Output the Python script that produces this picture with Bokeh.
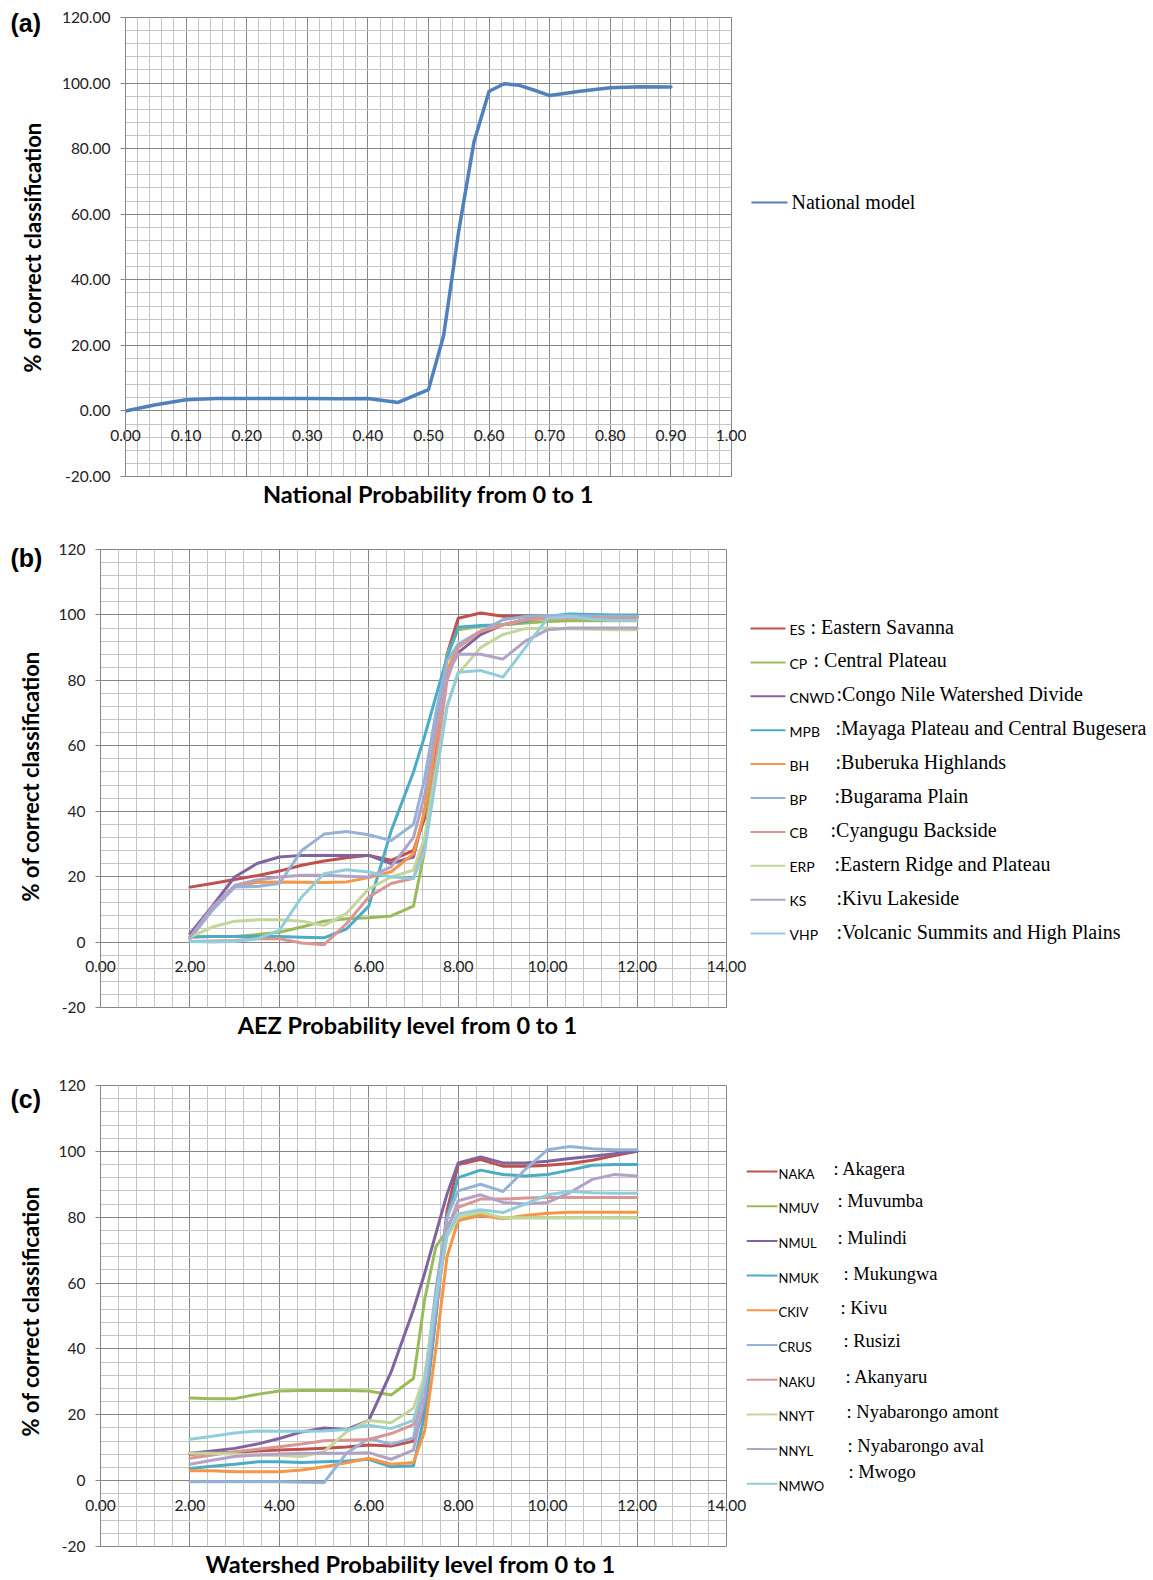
import numpy as np
from bokeh.plotting import figure
from bokeh.models import Range1d, FixedTicker, NumeralTickFormatter, ColumnDataSource
from bokeh.layouts import column, row
from bokeh.embed import file_html
from bokeh.resources import INLINE
from bokeh.core.properties import value

# ---------------- data ----------------
# (a) national model
nat_x = [0.0, 0.05, 0.1, 0.15, 0.2, 0.25, 0.3, 0.35, 0.4, 0.45, 0.5, 0.525, 0.55,
         0.575, 0.6, 0.625, 0.65, 0.675, 0.7, 0.75, 0.8, 0.85, 0.9]
nat_y = [0.0, 1.9, 3.4, 3.8, 3.8, 3.8, 3.8, 3.7, 3.8, 2.6, 6.5, 23.0, 55.0,
         82.0, 97.5, 99.8, 99.3, 97.8, 96.2, 97.5, 98.6, 98.9, 98.8]
nat_label = "National model"
nat_xticks = [0.0, 0.1, 0.2, 0.3, 0.4, 0.5, 0.6, 0.7, 0.8, 0.9, 1.0]
yticks = [-20, 0, 20, 40, 60, 80, 100, 120]

# (b) agro-ecological zones
aez_x = [2, 2.5, 3, 3.5, 4, 4.5, 5, 5.5, 6, 6.5, 7, 7.25, 7.5, 7.75, 8, 8.5, 9,
         9.5, 10, 10.5, 11, 11.5, 12]
aez_codes = ["ES", "CP", "CNWD", "MPB", "BH", "BP", "CB", "ERP", "KS", "VHP"]
aez_names = [": Eastern Savanna", ": Central Plateau", ":Congo Nile Watershed Divide",
             ":Mayaga Plateau and Central Bugesera", ":Buberuka Highlands",
             ":Bugarama Plain", ":Cyangugu Backside", ":Eastern Ridge and Plateau",
             ":Kivu Lakeside", ":Volcanic Summits and High Plains"]
aez_ES = [16.8, 17.9, 19.1, 20.3, 21.7, 23.5, 24.8, 25.8, 26.5, 25.0, 28.0, 38.0, 60.0,
          88.0, 99.0, 100.6, 99.6, 99.5, 99.5, 99.5, 99.5, 99.5, 99.5]
aez_CP = [1.7, 1.7, 1.7, 2.3, 3.0, 4.6, 6.4, 7.1, 7.4, 8.0, 11.0, 28.0, 67.0,
          88.0, 95.5, 96.5, 97.0, 97.5, 98.0, 98.2, 98.2, 98.2, 98.2]
aez_CNWD = [2.5, 11.0, 19.9, 24.0, 26.0, 26.5, 26.5, 26.5, 26.5, 24.0, 26.0, 40.0, 65.0,
            82.0, 88.5, 94.0, 97.0, 98.5, 99.5, 99.7, 99.7, 99.5, 99.5]
aez_MPB = [1.5, 1.7, 1.7, 1.7, 1.7, 1.5, 1.3, 4.0, 11.0, 34.0, 52.0, 63.0, 75.0,
           87.0, 96.2, 96.8, 97.0, 98.0, 99.6, 100.3, 100.1, 100.0, 100.0]
aez_BH = [1.0, 10.0, 17.0, 18.3, 18.4, 18.3, 18.2, 18.4, 19.7, 21.5, 27.0, 40.0, 62.0,
          83.0, 91.0, 95.0, 97.0, 98.5, 99.0, 99.2, 99.2, 99.2, 99.2]
aez_BP = [1.0, 9.7, 16.8, 17.0, 17.9, 28.0, 33.0, 33.8, 32.8, 31.0, 36.0, 50.0, 70.0,
          86.0, 91.0, 95.0, 98.5, 99.5, 99.8, 99.8, 99.7, 99.6, 99.5]
aez_CB = [0.2, 0.3, 0.5, 1.0, 1.0, -0.3, -0.8, 5.6, 13.8, 17.9, 19.5, 30.0, 55.0,
          80.0, 90.0, 95.0, 97.0, 98.5, 99.0, 99.0, 99.0, 99.0, 99.0]
aez_ERP = [1.5, 4.6, 6.4, 6.8, 6.8, 6.4, 5.1, 8.7, 16.3, 19.9, 22.0, 32.0, 52.0,
           72.0, 82.0, 90.0, 94.0, 95.8, 96.0, 95.8, 95.6, 95.5, 95.5]
aez_KS = [1.5, 10.7, 17.3, 19.0, 19.9, 20.4, 20.4, 20.1, 19.9, 23.0, 32.0, 45.0, 65.0,
          82.0, 88.0, 88.0, 86.5, 92.0, 95.5, 96.0, 96.0, 96.0, 96.0]
aez_VHP = [0.2, 0.0, 0.2, 1.0, 3.6, 13.8, 20.9, 22.1, 21.4, 19.9, 19.4, 28.0, 50.0,
           72.0, 82.5, 83.0, 81.0, 90.0, 99.0, 99.5, 98.7, 98.3, 98.3]
aez_series = [aez_ES, aez_CP, aez_CNWD, aez_MPB, aez_BH, aez_BP, aez_CB, aez_ERP,
              aez_KS, aez_VHP]
aez_xticks = [0, 2, 4, 6, 8, 10, 12, 14]

# (c) watersheds
ws_x = aez_x
ws_codes = ["NAKA", "NMUV", "NMUL", "NMUK", "CKIV", "CRUS", "NAKU", "NNYT", "NNYL", "NMWO"]
ws_names = [": Akagera", ": Muvumba", ": Mulindi", ": Mukungwa", ": Kivu", ": Rusizi",
            ": Akanyaru", ": Nyabarongo amont", ": Nyabarongo aval", ": Mwogo"]
ws_NAKA = [8.0, 8.3, 8.6, 9.0, 9.3, 9.5, 9.8, 10.2, 10.8, 10.5, 12.0, 22.0, 50.0,
           82.0, 96.0, 97.5, 95.5, 95.5, 95.8, 96.3, 97.3, 98.7, 100.0]
ws_NMUV = [25.1, 24.9, 24.9, 26.2, 27.2, 27.4, 27.4, 27.4, 27.2, 26.0, 31.0, 55.0, 71.0,
           76.0, 79.0, 81.0, 79.8, 79.8, 79.8, 79.8, 79.8, 79.8, 79.8]
ws_NMUL = [8.3, 9.0, 9.8, 11.1, 12.8, 14.8, 16.0, 15.5, 18.3, 33.0, 52.0, 63.0, 75.0,
           87.0, 96.5, 98.3, 96.5, 96.5, 97.0, 97.8, 98.5, 99.3, 100.0]
ws_NMUK = [3.7, 4.4, 5.0, 5.7, 5.7, 5.5, 5.7, 6.0, 6.5, 4.2, 4.5, 20.0, 50.0,
           80.0, 92.0, 94.3, 93.0, 92.5, 93.0, 94.3, 95.8, 96.0, 96.0]
ws_CKIV = [3.0, 3.0, 2.7, 2.7, 2.7, 3.2, 4.2, 5.4, 6.8, 5.0, 5.5, 15.0, 40.0,
           68.0, 79.0, 80.5, 79.5, 80.5, 81.2, 81.5, 81.5, 81.5, 81.5]
ws_CRUS = [-0.3, -0.3, -0.3, -0.3, -0.3, -0.5, -0.6, 8.3, 12.8, 11.1, 13.0, 30.0, 58.0,
           80.0, 88.0, 90.0, 87.8, 94.5, 100.5, 101.5, 100.8, 100.5, 100.5]
ws_NAKU = [6.8, 7.8, 8.8, 9.5, 10.3, 11.1, 12.1, 12.3, 12.5, 14.3, 17.0, 30.0, 55.0,
           77.0, 83.0, 85.5, 85.5, 85.8, 86.0, 86.0, 86.0, 86.0, 86.0]
ws_NNYT = [8.3, 8.3, 8.0, 7.8, 7.6, 7.3, 8.8, 14.8, 18.3, 17.6, 22.0, 32.0, 55.0,
           74.0, 80.0, 81.5, 79.8, 79.8, 79.8, 79.8, 79.8, 79.8, 79.8]
ws_NNYL = [5.0, 6.2, 7.3, 7.8, 8.1, 8.3, 8.3, 8.3, 8.5, 6.5, 9.3, 25.0, 52.0,
           76.0, 85.0, 86.8, 84.5, 84.0, 84.5, 87.5, 91.5, 93.0, 92.5]
ws_NMWO = [12.6, 13.5, 14.5, 15.1, 15.0, 15.0, 15.1, 15.5, 16.8, 15.8, 18.3, 30.0, 55.0,
           75.0, 81.0, 82.3, 81.4, 84.0, 86.8, 87.8, 87.4, 87.3, 87.3]
ws_series = [ws_NAKA, ws_NMUV, ws_NMUL, ws_NMUK, ws_CKIV, ws_CRUS, ws_NAKU, ws_NNYT,
             ws_NNYL, ws_NMWO]

y_title = "% of correct classification"
x_titles = ["National Probability from 0 to 1", "AEZ Probability  level  from 0 to 1",
            "Watershed Probability level  from 0 to 1"]
panel_tags = ["(a)", "(b)", "(c)"]

# ---------------- styles / layout ----------------
COLORS = ["#c0504d", "#9bbb59", "#8064a2", "#4bacc6", "#f79646",
          "#95b3d7", "#d99694", "#c3d69b", "#b3a2c7", "#92cddc"]
NAT_COLOR = "#4f81bd"
MAJOR = "#868686"
MINOR = "#c6c6c6"
SANS = "Lato"
SERIF = "Liberation Serif"
PAGE_W = 1153
TAG_W = 50
MAIN_W = 696
LEG_W = PAGE_W - TAG_W - MAIN_W
TICK_PX = "15.5px"


def minor_ticks(ticks, n=5):
    out = []
    for a, b in zip(ticks[:-1], ticks[1:]):
        step = (b - a) / n
        out += [a + k * step for k in range(1, n)]
    return out


def main_fig(height, b_left, b_right, b_top, frame_h, xticks, xfmt, yfmt, xtitle,
             title_sd):
    p = figure(width=MAIN_W, height=height,
               x_range=Range1d(xticks[0], xticks[-1]), y_range=Range1d(-20, 120),
               output_backend="svg", toolbar_location=None,
               min_border_left=b_left, min_border_right=b_right, min_border_top=b_top,
               min_border_bottom=height - b_top - frame_h)
    p.frame_align = False
    p.background_fill_color = "white"
    p.border_fill_color = "white"
    p.outline_line_color = MAJOR
    p.outline_line_width = 1

    xt = FixedTicker(ticks=xticks, minor_ticks=minor_ticks(xticks))
    yt = FixedTicker(ticks=yticks, minor_ticks=minor_ticks(yticks))
    p.xaxis.ticker = xt
    p.yaxis.ticker = yt
    for g, t in ((p.xgrid, xt), (p.ygrid, yt)):
        g.ticker = t
        g.grid_line_color = MAJOR
        g.grid_line_width = 1
        g.minor_grid_line_color = MINOR
        g.minor_grid_line_width = 1

    # x tick labels are lifted up so they sit just under the zero line
    xa = p.xaxis[0]
    xa.axis_line_color = None
    xa.major_tick_line_color = None
    xa.minor_tick_line_color = None
    xa.major_tick_out = 0
    xa.major_tick_in = 0
    xa.minor_tick_out = 0
    xa.minor_tick_in = 0
    xa.major_label_standoff = -47
    xa.formatter = NumeralTickFormatter(format=xfmt)
    xa.major_label_text_font = SANS
    xa.major_label_text_font_size = TICK_PX
    xa.major_label_text_color = "#222222"
    xa.axis_label = xtitle
    xa.axis_label_text_font = SANS
    xa.axis_label_text_font_size = "23.5px"
    xa.axis_label_text_font_style = "bold"
    xa.axis_label_text_color = "black"
    xa.axis_label_standoff = title_sd

    ya = p.yaxis[0]
    ya.axis_line_color = MAJOR
    ya.major_tick_line_color = MAJOR
    ya.major_tick_out = 5
    ya.major_tick_in = 0
    ya.minor_tick_line_color = None
    ya.major_label_standoff = 10
    ya.formatter = NumeralTickFormatter(format=yfmt)
    ya.major_label_text_font = SANS
    ya.major_label_text_font_size = TICK_PX
    ya.major_label_text_color = "#222222"
    return p


def blank_fig(width, height):
    f = figure(width=width, height=height, x_range=Range1d(0, width),
               y_range=Range1d(height, 0), output_backend="svg", toolbar_location=None,
               x_axis_type=None, y_axis_type=None, min_border=0)
    f.frame_align = False
    f.outline_line_color = None
    f.background_fill_color = "white"
    f.border_fill_color = "white"
    return f


def tag_fig(height, tag, tag_y, title_x, title_y):
    f = blank_fig(TAG_W, height)
    f.text(x=[10], y=[tag_y], text=[tag], text_font=value("Liberation Sans"),
           text_font_size=value("25px"), text_font_style="bold", text_baseline="middle",
           text_color="black")
    f.text(x=[title_x], y=[title_y], text=[y_title], text_font=value(SANS),
           text_font_size=value("22px"), text_font_style="bold", text_align="center",
           text_baseline="middle", angle=np.pi / 2, text_color="black")
    return f


HA, HB, HC = 520, 532, 528

# ---------------- panel (a) ----------------
ta = tag_fig(HA, panel_tags[0], 22, 32, 247)
pa = main_fig(HA, 75, 15, 17, 459, nat_xticks, "0.00", "0.00", x_titles[0], 36)
pa.line(x="x", y="y", source=ColumnDataSource(dict(x=nat_x, y=nat_y)),
        line_color=NAT_COLOR, line_width=3.5, line_join="round", line_cap="round")

la = blank_fig(LEG_W, HA)
la.segment(x0=[5], y0=[202], x1=[41], y1=[202], line_color=NAT_COLOR, line_width=2)
la.text(x=[45], y=[201], text=[nat_label], text_font=value(SERIF),
        text_font_size=value("20px"), text_baseline="middle", text_color="black")

# ---------------- panel (b) ----------------
tb = tag_fig(HB, panel_tags[1], 37, 30, 256)
pb = main_fig(HB, 50, 20, 29, 458, aez_xticks, "0.00", "0", x_titles[1], 36)
for vals, col in zip(aez_series, COLORS):
    pb.line(x="x", y="y", source=ColumnDataSource(dict(x=aez_x, y=vals)),
            line_color=col, line_width=3, line_join="round", line_cap="round")

lb = blank_fig(LEG_W, HB)
b_rows = [108 + i * 33.9 for i in range(len(aez_codes))]
b_desc_x = [64, 67, 90, 89, 89, 88, 84, 88, 90, 90]
lb.segment(x0=[4] * 10, y0=b_rows, x1=[39] * 10, y1=b_rows, line_color=COLORS,
           line_width=2)
lb.text(x=[43] * 10, y=[r + 1 for r in b_rows], text=aez_codes, text_font=value(SANS),
        text_font_size=value("14px"), text_baseline="middle", text_color="black")
lb.text(x=b_desc_x, y=[r - 2 for r in b_rows], text=aez_names, text_font=value(SERIF),
        text_font_size=value("20px"), text_baseline="middle", text_color="black")

# ---------------- panel (c) ----------------
tc = tag_fig(HC, panel_tags[2], 46, 30, 259)
pc = main_fig(HC, 50, 20, 33, 461, aez_xticks, "0.00", "0", x_titles[2], 36)
for vals, col in zip(ws_series, COLORS):
    pc.line(x="x", y="y", source=ColumnDataSource(dict(x=ws_x, y=vals)),
            line_color=col, line_width=3, line_join="round", line_cap="round")

lc = blank_fig(LEG_W, HC)
c_rows = [119 + i * 34.7 for i in range(len(ws_codes))]
c_desc_dy = [-3, -5, -3, -2, -2, -4, -3, -2, -3, -12]
c_desc_x = [87, 91, 91, 97, 94, 97, 99, 100, 101, 102]
lc.segment(x0=[0] * 10, y0=c_rows, x1=[31] * 10, y1=c_rows, line_color=COLORS,
           line_width=2)
lc.text(x=[32] * 10, y=[r + 2 for r in c_rows], text=ws_codes, text_font=value(SANS),
        text_font_size=value("13px"), text_baseline="middle", text_color="black")
lc.text(x=c_desc_x, y=[r + d for r, d in zip(c_rows, c_desc_dy)], text=ws_names,
        text_font=value(SERIF), text_font_size=value("18.5px"), text_baseline="middle",
        text_color="black")

layout = column(row(ta, pa, la), row(tb, pb, lb), row(tc, pc, lc))
open("out.html", "w").write(file_html(layout, INLINE))
